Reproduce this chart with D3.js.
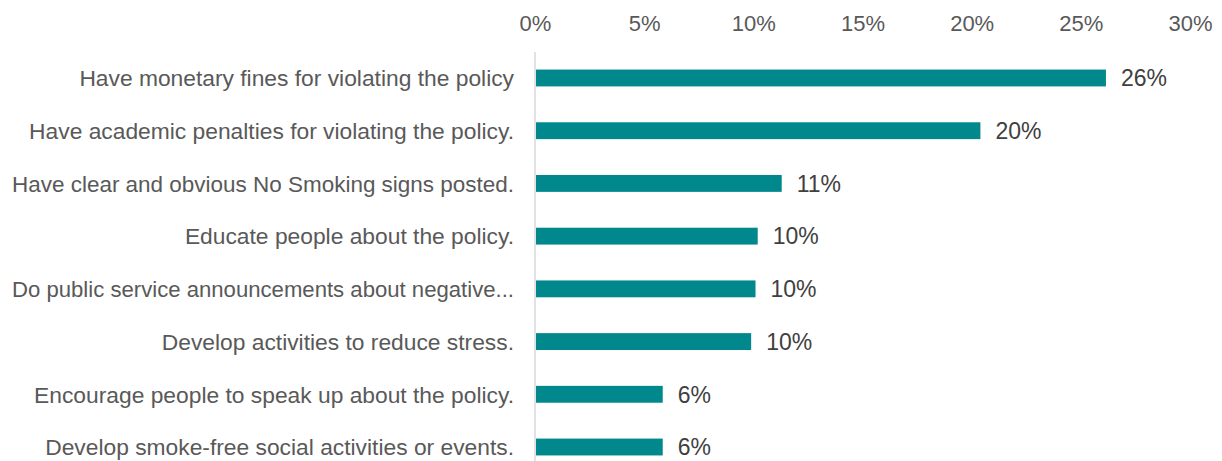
<!DOCTYPE html>
<html>
<head>
<meta charset="utf-8">
<script src="https://cdn.jsdelivr.net/npm/d3@7"></script>
<style>
  body { margin: 0; background: #fff; }
  svg text { font-family: "Liberation Sans", Arial, sans-serif; }
</style>
</head>
<body>
<div id="chart"></div>
<script>
// Chart data
const categories = [
    'Have monetary fines for violating the policy',
    'Have academic penalties for violating the policy.',
    'Have clear and obvious No Smoking signs posted.',
    'Educate people about the policy.',
    'Do public service announcements about negative...',
    'Develop activities to reduce stress.',
    'Encourage people to speak up about the policy.',
    'Develop smoke-free social activities or events.'
];
const values = [26.15, 20.4, 11.3, 10.2, 10.1, 9.9, 5.85, 5.85];
const valueLabels = ['26%', '20%', '11%', '10%', '10%', '10%', '6%', '6%'];
const tickValues = [0, 5, 10, 15, 20, 25, 30];

const width = 1222;
const height = 461;
const margin = { top: 52, right: 32, bottom: 0, left: 535 };
const labelGap = 21;
const labelMinX = 12;

const svg = d3.select('#chart')
    .append('svg')
    .attr('width', width)
    .attr('height', height);

const x = d3.scaleLinear()
    .domain([0, 30])
    .range([margin.left, width - margin.right]);

const y = d3.scaleBand()
    .domain(categories)
    .range([margin.top, 473])
    .paddingInner(0.68)
    .paddingOuter(0.333);

// Top axis labels (no line, no ticks)
const xAxis = svg.append('g')
    .attr('transform', 'translate(0,31)')
    .call(d3.axisTop(x)
        .tickValues(tickValues)
        .tickSize(0)
        .tickPadding(0)
        .tickFormat(d => d + '%'));
xAxis.select('.domain').remove();
xAxis.selectAll('text')
    .style('font-size', '22px')
    .style('fill', '#595959');

// Vertical baseline
svg.append('line')
    .attr('x1', x(0))
    .attr('x2', x(0))
    .attr('y1', margin.top)
    .attr('y2', height)
    .style('stroke', '#d9d9d9')
    .style('stroke-width', '1.5px');

// Bars
svg.selectAll('.bar')
    .data(values)
    .enter()
    .append('rect')
    .attr('class', 'bar')
    .attr('x', x(0) + 1)
    .attr('y', (d, i) => y(categories[i]))
    .attr('width', d => x(d) - x(0) - 1)
    .attr('height', y.bandwidth())
    .attr('fill', '#00888c');

// Value labels
svg.selectAll('.value-label')
    .data(values)
    .enter()
    .append('text')
    .attr('class', 'value-label')
    .attr('x', d => x(d) + 15)
    .attr('y', (d, i) => y(categories[i]) + y.bandwidth() / 2)
    .attr('dy', '0.36em')
    .style('font-size', '23px')
    .style('fill', '#404040')
    .text((d, i) => valueLabels[i]);

// Category labels
const catLabels = svg.selectAll('.cat-label')
    .data(categories)
    .enter()
    .append('text')
    .attr('class', 'cat-label')
    .attr('text-anchor', 'end')
    .attr('x', margin.left - labelGap)
    .attr('y', d => y(d) + y.bandwidth() / 2)
    .attr('dy', '0.36em')
    .style('font-size', '22.8px')
    .style('fill', '#595959')
    .text(d => d);

// Squeeze any label that would run past the left edge
const maxLabelWidth = margin.left - labelGap - labelMinX;
catLabels.each(function() {
    if (this.getComputedTextLength() > maxLabelWidth) {
        d3.select(this)
            .attr('textLength', maxLabelWidth)
            .attr('lengthAdjust', 'spacingAndGlyphs');
    }
});
</script>
</body>
</html>
